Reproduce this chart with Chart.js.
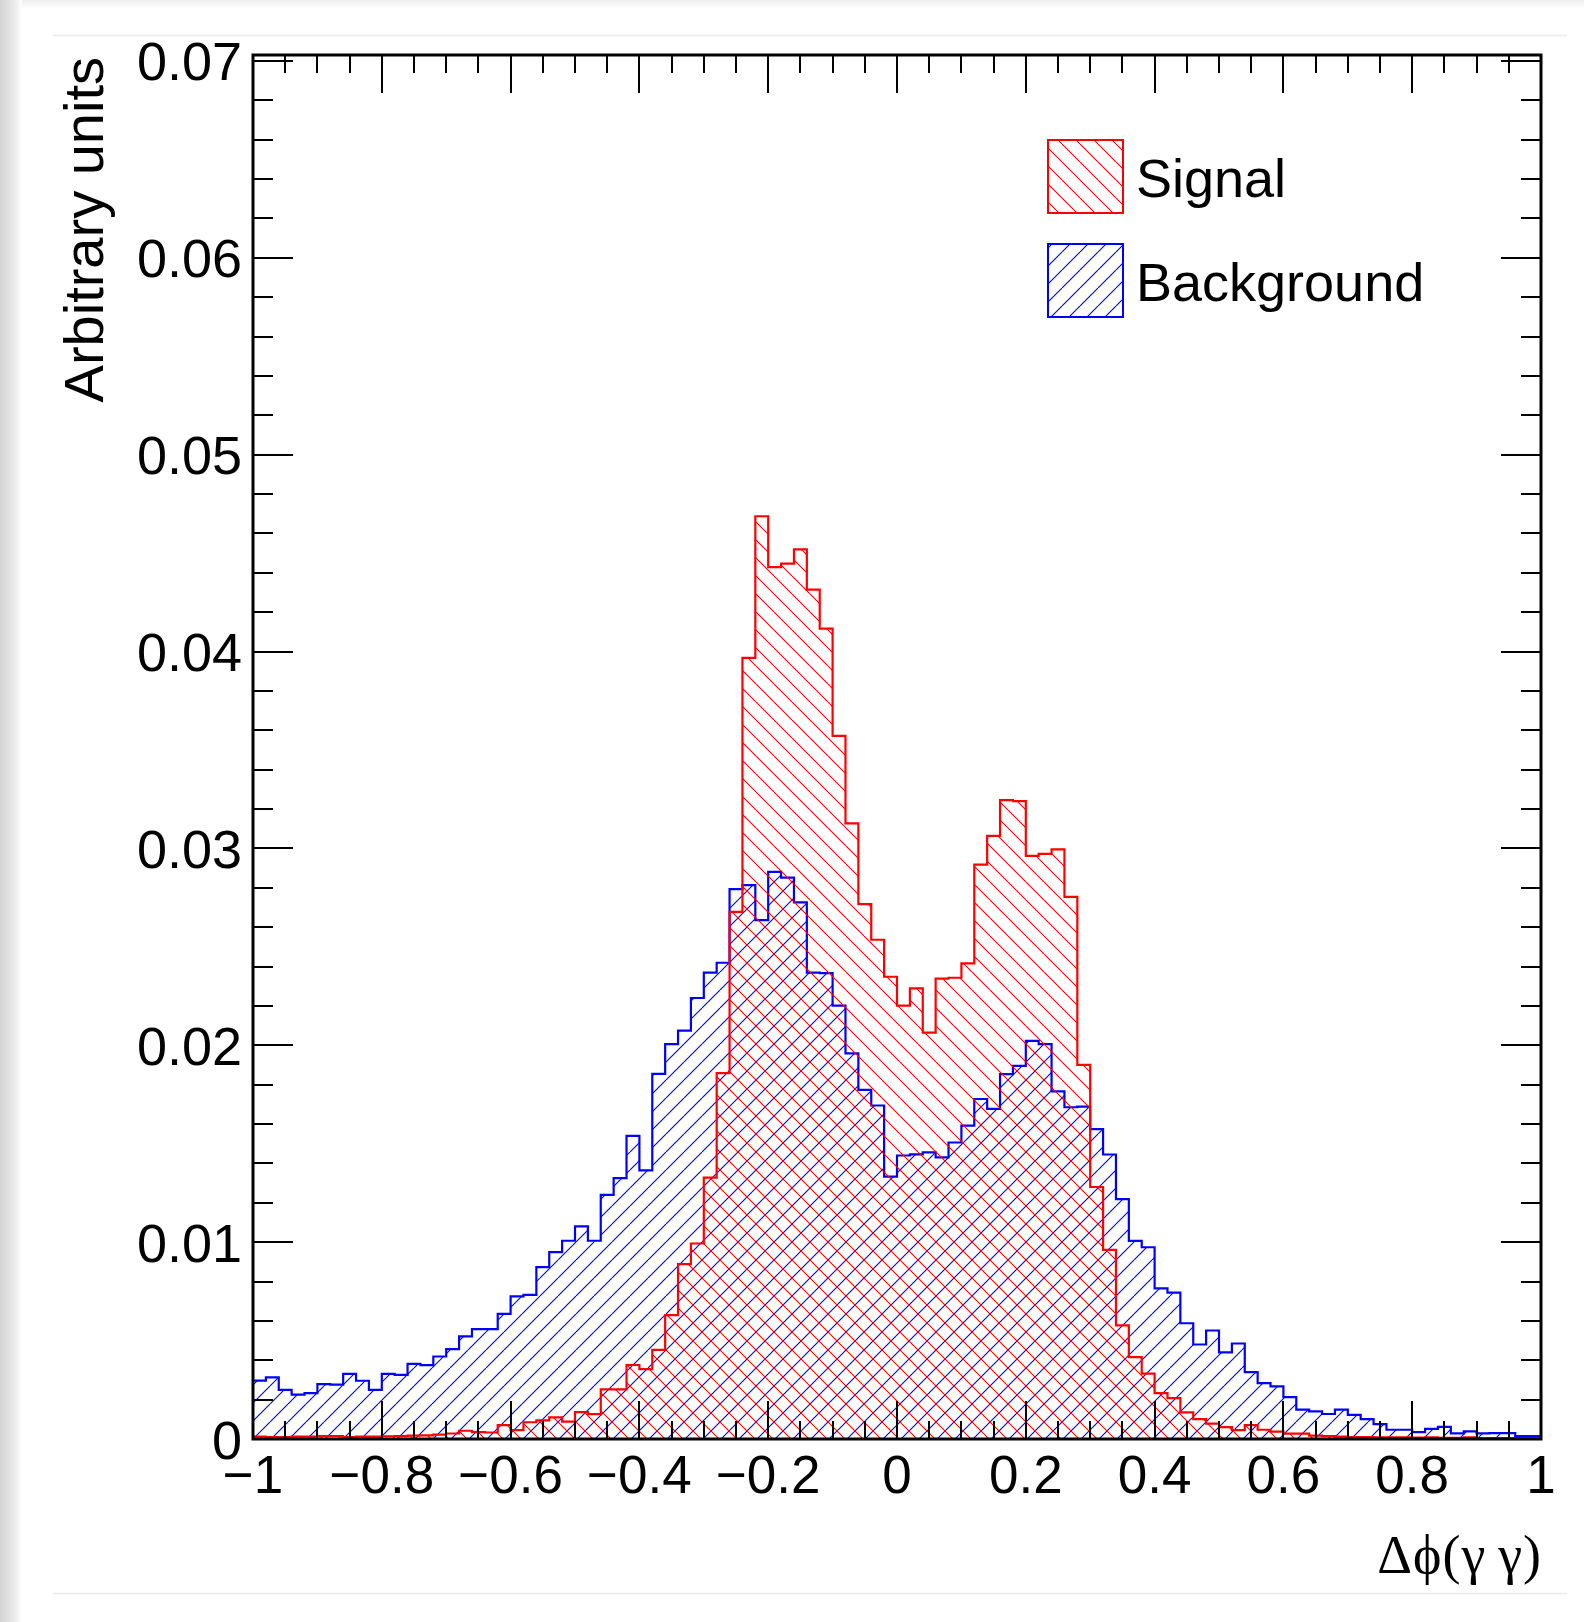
<!DOCTYPE html>
<html>
<head>
<meta charset="utf-8">
<script src="https://cdn.jsdelivr.net/npm/chart.js@4.4.1/dist/chart.umd.min.js"></script>
<style>
  html, body { margin: 0; padding: 0; background: #fff; }
  #wrap { width: 1584px; height: 1622px; position: relative; }
</style>
</head>
<body>
<div id="wrap"><canvas id="myChart" width="1584" height="1622"></canvas></div>
<script>
// 100 bins on [-1, 1]
var xMin = -1, xMax = 1, nBins = 100;
var binEdges = [];
for (var i = 0; i <= nBins; i++) binEdges.push(+(xMin + i * (xMax - xMin) / nBins).toFixed(2));

// bin contents (arbitrary units)
var signal = [
  0.00012, 0.00010, 0.00010, 0.00012, 0.00012, 0.00015, 0.00015, 0.00010, 0.00012, 0.00012,
  0.00014, 0.00015, 0.00017, 0.00018, 0.00022, 0.00028, 0.00042, 0.00035, 0.00033, 0.00070,
  0.00045, 0.00085, 0.00095, 0.00110, 0.00088, 0.00137, 0.00126, 0.00252, 0.00252, 0.00376,
  0.00355, 0.00453, 0.00629, 0.00888, 0.00993, 0.01328, 0.01858, 0.02678, 0.03968, 0.04687,
  0.04429, 0.04446, 0.04519, 0.04314, 0.04116, 0.03572, 0.03127, 0.02717, 0.02536, 0.02348,
  0.02201, 0.02289, 0.02064, 0.02338, 0.02343, 0.02416, 0.02918, 0.03064, 0.03245, 0.03240,
  0.02962, 0.02972, 0.02995, 0.02754, 0.01900, 0.01280, 0.00961, 0.00577, 0.00416, 0.00332,
  0.00233, 0.00208, 0.00135, 0.00101, 0.00078, 0.00060, 0.00045, 0.00070, 0.00047, 0.00037,
  0.00027, 0.00027, 0.00017, 0.00015, 0.00012, 0.00010, 0.00010, 0.00008, 0.00008, 0.00008,
  0.00007, 0.00008, 0.00006, 0.00006, 0.00008, 0.00005, 0.00005, 0.00004, 0.00004, 0.00004
];
var background = [
  0.00297, 0.00313, 0.00250, 0.00225, 0.00233, 0.00279, 0.00276, 0.00331, 0.00296, 0.00250,
  0.00331, 0.00326, 0.00382, 0.00375, 0.00419, 0.00457, 0.00521, 0.00558, 0.00558, 0.00636,
  0.00724, 0.00732, 0.00873, 0.00949, 0.01007, 0.01080, 0.01007, 0.01240, 0.01325, 0.01540,
  0.01364, 0.01855, 0.02006, 0.02074, 0.02240, 0.02369, 0.02419, 0.02793, 0.02813, 0.02636,
  0.02881, 0.02851, 0.02726, 0.02369, 0.02366, 0.02201, 0.01959, 0.01773, 0.01694, 0.01333,
  0.01440, 0.01446, 0.01456, 0.01431, 0.01506, 0.01592, 0.01727, 0.01677, 0.01853, 0.01895,
  0.02022, 0.02006, 0.01766, 0.01685, 0.01688, 0.01574, 0.01445, 0.01218, 0.01006, 0.00974,
  0.00765, 0.00744, 0.00588, 0.00480, 0.00551, 0.00440, 0.00485, 0.00340, 0.00284, 0.00267,
  0.00213, 0.00149, 0.00140, 0.00127, 0.00149, 0.00123, 0.00101, 0.00076, 0.00047, 0.00047,
  0.00035, 0.00051, 0.00062, 0.00029, 0.00039, 0.00029, 0.00030, 0.00030, 0.00015, 0.00015
];

var xTickValues = [-1, -0.8, -0.6, -0.4, -0.2, 0, 0.2, 0.4, 0.6, 0.8, 1];
var xTickLabels = ["\u22121", "\u22120.8", "\u22120.6", "\u22120.4", "\u22120.2", "0", "0.2", "0.4", "0.6", "0.8", "1"];
var yTickValues = [0, 0.01, 0.02, 0.03, 0.04, 0.05, 0.06, 0.07];
var yTickLabels = ["0", "0.01", "0.02", "0.03", "0.04", "0.05", "0.06", "0.07"];
var xMinorPerMajor = 4;  // ticks every 0.05
var yMinorPerMajor = 5;  // ticks every 0.002

var seriesNames = ["Signal", "Background"];
var seriesColors = ["#ff0000", "#0000ff"];

function hatch(color, dir) {
  var s = 18;
  var c = document.createElement('canvas');
  c.width = s; c.height = s;
  var g = c.getContext('2d');
  g.strokeStyle = color;
  g.lineWidth = 1.1;
  g.beginPath();
  [-s, 0, s].forEach(function (o) {
    if (dir > 0) { g.moveTo(o, s); g.lineTo(o + s, 0); }   // "/"
    else { g.moveTo(o, 0); g.lineTo(o + s, s); }           // "\"
  });
  g.stroke();
  return g.createPattern(c, 'repeat');
}
var patterns = [hatch(seriesColors[0], -1), hatch(seriesColors[1], 1)];

function toPoints(vals) {
  return binEdges.map(function (x, i) {
    return { x: x, y: vals[Math.min(i, vals.length - 1)] };
  });
}

var rootFrame = {
  id: 'rootFrame',
  beforeDraw: function (chart) {
    var ctx = chart.ctx;
    ctx.save();
    ctx.fillStyle = '#fff';
    ctx.fillRect(0, 0, chart.width, chart.height);
    // window shadow on the left and top
    var gl = ctx.createLinearGradient(0, 0, 22, 0);
    gl.addColorStop(0, '#d4d4d4');
    gl.addColorStop(0.7, '#ececec');
    gl.addColorStop(1, '#ffffff');
    ctx.fillStyle = gl;
    ctx.fillRect(0, 0, 22, chart.height);
    var gt = ctx.createLinearGradient(0, 0, 0, 9);
    gt.addColorStop(0, '#eeeeee');
    gt.addColorStop(1, '#ffffff');
    ctx.fillStyle = gt;
    ctx.fillRect(22, 0, chart.width - 22, 9);
    // pad border
    ctx.strokeStyle = '#ebebeb';
    ctx.lineWidth = 1.5;
    ctx.beginPath();
    ctx.moveTo(53, 35.5); ctx.lineTo(1567, 35.5);
    ctx.moveTo(53, 1593.5); ctx.lineTo(1567, 1593.5);
    ctx.stroke();
    ctx.restore();
  },
  afterDatasetsDraw: function (chart) {
    var ctx = chart.ctx, a = chart.chartArea;
    var xs = chart.scales.x, ys = chart.scales.y;
    ctx.save();
    ctx.strokeStyle = '#000';
    ctx.fillStyle = '#000';

    // ticks on all four sides, pointing inwards
    ctx.lineWidth = 2;
    ctx.beginPath();
    for (var k = 0; k < xTickValues.length; k++) {
      for (var m = 0; m < xMinorPerMajor; m++) {
        if (k === xTickValues.length - 1 && m > 0) break;
        var v = m === 0 ? xTickValues[k] : xTickValues[k] + m * (xTickValues[k + 1] - xTickValues[k]) / xMinorPerMajor;
        var px = Math.round(xs.getPixelForValue(v));
        var len = m === 0 ? 38 : 18;
        ctx.moveTo(px, a.bottom); ctx.lineTo(px, a.bottom - len);
        ctx.moveTo(px, a.top); ctx.lineTo(px, a.top + len);
      }
    }
    for (var k = 0; k < yTickValues.length; k++) {
      for (var m = 0; m < yMinorPerMajor; m++) {
        if (k === yTickValues.length - 1 && m > 0) break;
        var v = m === 0 ? yTickValues[k] : yTickValues[k] + m * (yTickValues[k + 1] - yTickValues[k]) / yMinorPerMajor;
        var py = Math.round(ys.getPixelForValue(v));
        var len = m === 0 ? 40 : 20;
        ctx.moveTo(a.left, py); ctx.lineTo(a.left + len, py);
        ctx.moveTo(a.right, py); ctx.lineTo(a.right - len, py);
      }
    }
    ctx.stroke();

    // frame
    ctx.lineWidth = 3;
    ctx.strokeRect(a.left, a.top, a.right - a.left, a.bottom - a.top);

    // tick labels
    ctx.font = '53px "Liberation Sans", Arial, sans-serif';
    ctx.textAlign = 'center';
    ctx.textBaseline = 'alphabetic';
    xTickValues.forEach(function (v, i) {
      ctx.fillText(xTickLabels[i], xs.getPixelForValue(v), a.bottom + 54);
    });
    ctx.font = '54px "Liberation Sans", Arial, sans-serif';
    ctx.textAlign = 'right';
    yTickValues.forEach(function (v, i) {
      ctx.fillText(yTickLabels[i], a.left - 11, ys.getPixelForValue(v) + 19.5);
    });

    // axis titles
    ctx.save();
    ctx.translate(103, 57);
    ctx.rotate(-Math.PI / 2);
    ctx.font = '56px "Liberation Sans", Arial, sans-serif';
    ctx.textAlign = 'right';
    ctx.fillText('Arbitrary units', 0, 0);
    ctx.restore();

    ctx.font = '54px "Liberation Serif", "Times New Roman", serif';
    ctx.textAlign = 'right';
    if ('letterSpacing' in ctx) ctx.letterSpacing = '1px';
    ctx.fillText('\u0394\u03d5(\u03b3\u2009\u03b3)', a.right + 1, 1573);
    if ('letterSpacing' in ctx) ctx.letterSpacing = '0px';

    // legend
    var boxTop = [140, 244];
    var baselines = [197, 301];
    ctx.font = '54px "Liberation Sans", Arial, sans-serif';
    ctx.textAlign = 'left';
    for (var s = 0; s < 2; s++) {
      ctx.fillStyle = patterns[s];
      ctx.fillRect(1048, boxTop[s], 75, 73);
      ctx.strokeStyle = seriesColors[s];
      ctx.lineWidth = 2;
      ctx.strokeRect(1048, boxTop[s], 75, 73);
      ctx.fillStyle = '#000';
      ctx.fillText(seriesNames[s], 1136, baselines[s]);
    }
    ctx.restore();
  }
};

new Chart("myChart", {
  type: "line",
  data: {
    datasets: [{
      label: seriesNames[0],
      data: toPoints(signal),
      stepped: true,
      borderColor: seriesColors[0],
      borderWidth: 2.2,
      backgroundColor: patterns[0],
      fill: 'origin',
      pointRadius: 0
    }, {
      label: seriesNames[1],
      data: toPoints(background),
      stepped: true,
      borderColor: seriesColors[1],
      borderWidth: 2.2,
      backgroundColor: patterns[1],
      fill: 'origin',
      pointRadius: 0
    }]
  },
  options: {
    responsive: false,
    animation: false,
    layout: { padding: { left: 253, top: 55, right: 43, bottom: 183 } },
    plugins: {
      legend: { display: false },
      tooltip: { enabled: false }
    },
    scales: {
      x: { type: 'linear', min: xMin, max: xMax, display: false },
      y: { min: 0, max: 0.0703, display: false }
    }
  },
  plugins: [rootFrame]
});
</script>
</body>
</html>
